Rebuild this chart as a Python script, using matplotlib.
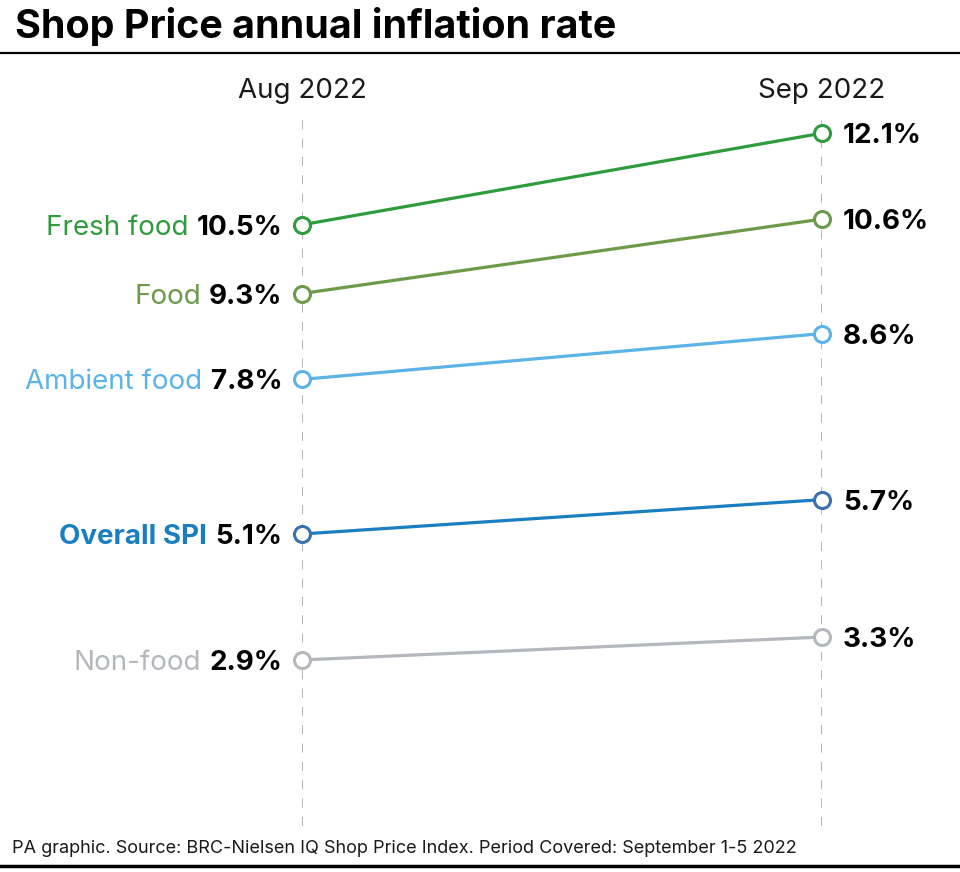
import matplotlib
matplotlib.use("Agg")
import matplotlib.pyplot as plt

plt.rcParams['font.family'] = ['Inter', 'DejaVu Sans']

# data
periods = ['Aug 2022', 'Sep 2022']
series = ['Fresh food', 'Food', 'Ambient food', 'Overall SPI', 'Non-food']
aug_values = [10.5, 9.3, 7.8, 5.1, 2.9]
sep_values = [12.1, 10.6, 8.6, 5.7, 3.3]

line_colors = ['#2e9b3c', '#6b9a48', '#5bb4e5', '#1a7fc1', '#b4b8bd']
edge_colors = ['#2e9b3c', '#6b9a48', '#5bb4e5', '#3a6fb0', '#b4b8bd']
label_colors = ['#2e9b3c', '#6b9a48', '#5bb4e5', '#1a7fc1', '#b4b8bd']
label_weights = ['normal', 'normal', 'normal', 'bold', 'normal']

fig = plt.figure(figsize=(9.6, 8.72), dpi=100)
ax = fig.add_axes([302 / 960, 46 / 872, 520 / 960, 710 / 872])
ax.set_xlim(0, 1)
ax.set_ylim(0, 12.4)
ax.axis('off')

# dashed guides
for x in [0, 1]:
    ax.axvline(x, color='#a0a0a0', linestyle=(0, (6, 6)), linewidth=1.1, zorder=1)

for i, name in enumerate(series):
    ax.plot([0, 1], [aug_values[i], sep_values[i]], color=line_colors[i], linewidth=2.3,
            marker='o', markersize=11.5, markerfacecolor='white',
            markeredgecolor=edge_colors[i], markeredgewidth=2.2, zorder=3, clip_on=False)

    val = ax.annotate(f'{aug_values[i]}%', xy=(0, aug_values[i]), xytext=(-14, 0),
                      textcoords='offset points', ha='right', va='center_baseline',
                      fontsize=20, fontweight='bold', color='black')
    ax.annotate(name, xy=(0, 0), xycoords=val, xytext=(-6, 0),
                textcoords='offset points', ha='right', va='bottom',
                fontsize=20, fontweight=label_weights[i], color=label_colors[i])
    ax.annotate(f'{sep_values[i]}%', xy=(1, sep_values[i]), xytext=(15, 0),
                textcoords='offset points', ha='left', va='center_baseline',
                fontsize=20, fontweight='bold', color='black')

# column headings
for x, p in zip([0, 1], periods):
    ax.annotate(p, xy=(x, 1), xycoords=('data', 'axes fraction'), xytext=(0, 18),
                textcoords='offset points', ha='center', va='center',
                fontsize=20, color='#1a1a1a')

# title and rules
fig.text(15 / 960, 1 - 27 / 872, 'Shop Price annual inflation rate', ha='left', va='center',
         fontsize=28.4, fontweight='bold', color='black')
fig.add_artist(plt.Line2D([0, 1], [1 - 53 / 872, 1 - 53 / 872], color='black', linewidth=1.6))
fig.text(12 / 960, 1 - 848 / 872,
         'PA graphic. Source: BRC-Nielsen IQ Shop Price Index. Period Covered: September 1-5 2022',
         ha='left', va='center', fontsize=13, color='#1a1a1a')
fig.add_artist(plt.Line2D([0, 1], [1 - 866 / 872, 1 - 866 / 872], color='black', linewidth=2.5))

fig.savefig('out.png', dpi=100, facecolor='white')
